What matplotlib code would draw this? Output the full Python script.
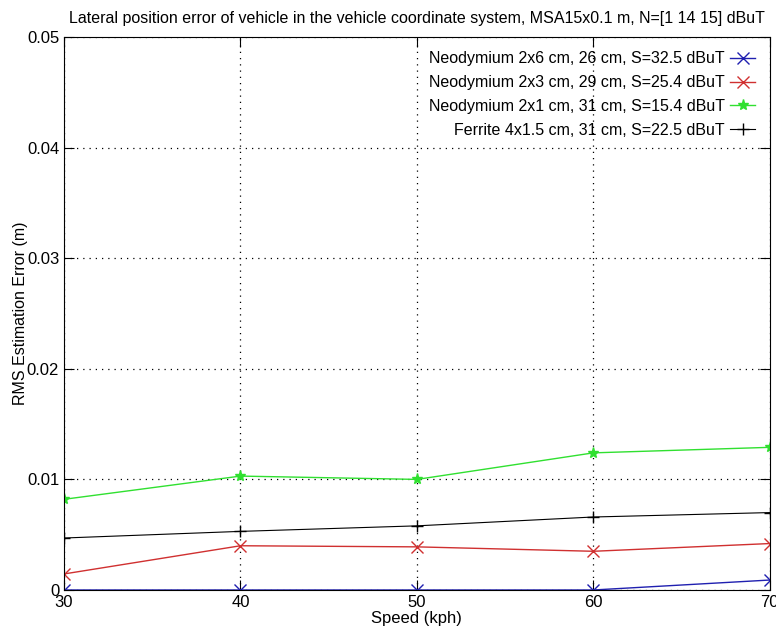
import numpy as np
import matplotlib
matplotlib.use("Agg")
import matplotlib.pyplot as plt

plt.rcParams['font.family'] = ['Liberation Sans', 'DejaVu Sans']

speeds = [30, 40, 50, 60, 70]
neo_2x6 = [0.0, 0.0, 0.0, 0.0, 0.0009]
neo_2x3 = [0.00145, 0.0040, 0.0039, 0.0035, 0.0042]
neo_2x1 = [0.0082, 0.0103, 0.0100, 0.0124, 0.0129]
ferrite = [0.0047, 0.0053, 0.0058, 0.0066, 0.0070]

labels = ["Neodymium 2x6 cm, 26 cm, S=32.5 dBuT",
          "Neodymium 2x3 cm, 29 cm, S=25.4 dBuT",
          "Neodymium 2x1 cm, 31 cm, S=15.4 dBuT",
          "Ferrite 4x1.5 cm, 31 cm, S=22.5 dBuT"]

fig = plt.figure(figsize=(7.76, 6.39), dpi=100)
ax = fig.add_axes([0.0825, 0.0767, 0.9095, 0.8653])

ax.plot(speeds, neo_2x6, color='#2020b0', marker='x', ms=9, lw=1, label=labels[0])
ax.plot(speeds, neo_2x3, color='#d03030', marker='x', ms=9, lw=1, label=labels[1])
ax.plot(speeds, neo_2x1, color='#30e030', marker='*', ms=8, lw=1, label=labels[2])
ax.plot(speeds, ferrite, color='black', marker='+', ms=8, lw=0.8, label=labels[3])

ax.set_xlim(30, 70)
ax.set_ylim(0, 0.05)
ax.set_xticks(speeds)
ax.set_yticks([0, 0.01, 0.02, 0.03, 0.04, 0.05])
ax.set_yticklabels(['0', '0.01', '0.02', '0.03', '0.04', '0.05'])
ax.tick_params(direction='in', top=True, right=True, length=7, labelsize=12)
ax.grid(True, linestyle=(0, (1, 4)), color='black', lw=0.9)
for s in ax.spines.values():
    s.set_linewidth(0.8)

ax.set_xlabel("Speed (kph)", fontsize=12, labelpad=1)
ax.set_ylabel("RMS Estimation Error (m)", fontsize=11.5, labelpad=-1)
ax.set_title("Lateral position error of vehicle in the vehicle coordinate system, MSA15x0.1 m, N=[1 14 15] dBuT",
             fontsize=11.5, pad=10)

leg = ax.legend(loc='upper right', frameon=False, markerfirst=False, fontsize=11.5,
                handlelength=1.6, handletextpad=0.3, labelspacing=0.55, borderaxespad=0.5)
for t in leg.get_texts():
    t.set_ha('right')

fig.savefig("out.png", dpi=100)
